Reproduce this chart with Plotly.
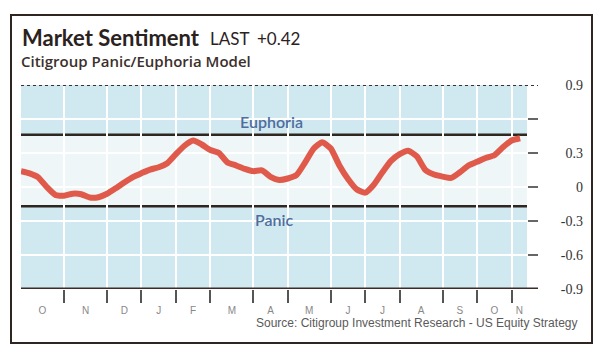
import plotly.graph_objects as go
import numpy as np

# ---------------- data ----------------
month_labels = ["O", "N", "D", "J", "F", "M", "A", "M", "J", "J", "A", "S", "O", "N"]
month_weeks = [5, 5, 4, 4, 4, 5, 4, 5, 4, 4, 5, 4, 4, 3]
sentiment = [0.14, 0.12, 0.085, 0.00, -0.07, -0.078, -0.059, -0.064, -0.093, -0.09,
             -0.06, -0.012, 0.04, 0.088, 0.122, 0.154, 0.174, 0.21, 0.29, 0.364,
             0.41, 0.375, 0.327, 0.30, 0.217, 0.19, 0.16, 0.14, 0.147, 0.09,
             0.062, 0.075, 0.104, 0.215, 0.338, 0.395, 0.34, 0.19, 0.07, -0.02,
             -0.05, 0.02, 0.13, 0.23, 0.29, 0.32, 0.27, 0.15, 0.11, 0.092,
             0.08, 0.13, 0.19, 0.222, 0.256, 0.28, 0.35, 0.41, 0.43]
euphoria_level = 0.46
panic_level = -0.17
y_min, y_max = -0.9, 0.9
tick_marks_y = [-0.6, -0.3, 0, 0.3, 0.6]
tick_labels_y = [0.9, 0.3, 0, -0.3, -0.6, -0.9]
last_value = "+0.42"

# ---------------- layout geometry ----------------
W, H = 604, 353
ML, MR, MT, MB = 21, 21, 85, 64
PW = W - ML - MR
PH = H - MT - MB
plot_right_px = 527
x_max = 58.8


def px(xp):
    return (xp - ML) / PW


def py(yp):
    return (H - MB - yp) / PH


weeks = np.arange(len(sentiment))
bounds = np.cumsum(month_weeks)
starts = np.concatenate([[0], bounds[:-1]])
centers = [(s + min(e, x_max)) / 2 for s, e in zip(starts, bounds)]
tick_bounds = [b for b in bounds[:-1]]

dark = "#2f2521"
blue = "#d0e8f0"
mid = "#eef6f8"

fig = go.Figure()
fig.add_trace(go.Scatter(
    x=weeks, y=sentiment, mode="lines",
    line=dict(color="#e05a4b", width=6, shape="spline", smoothing=0.5),
    hoverinfo="skip", showlegend=False,
))
# invisible trace for label axes
fig.add_trace(go.Scatter(x=[0], y=[0], xaxis="x2", yaxis="y2", mode="markers",
                         marker=dict(opacity=0), showlegend=False, hoverinfo="skip"))

shapes = [
    dict(type="rect", xref="x", yref="y", x0=0, x1=x_max, y0=euphoria_level, y1=y_max,
         fillcolor=blue, line=dict(width=0), layer="below"),
    dict(type="rect", xref="x", yref="y", x0=0, x1=x_max, y0=y_min, y1=panic_level,
         fillcolor=blue, line=dict(width=0), layer="below"),
    dict(type="line", xref="x", yref="y", x0=0, x1=x_max, y0=euphoria_level, y1=euphoria_level,
         line=dict(color=dark, width=2.5), layer="below"),
    dict(type="line", xref="x", yref="y", x0=0, x1=x_max, y0=panic_level, y1=panic_level,
         line=dict(color=dark, width=2.5), layer="below"),
    # top dotted line and bottom axis line
    dict(type="line", xref="paper", yref="y", x0=0, x1=px(538), y0=y_max, y1=y_max,
         line=dict(color="#3a3230", width=2, dash="dot"), layer="above"),
    dict(type="line", xref="paper", yref="y", x0=0, x1=px(538), y0=y_min, y1=y_min,
         line=dict(color="#3a2c26", width=3), layer="above"),
    # outer frame
    dict(type="rect", xref="paper", yref="paper", x0=px(11), x1=px(592), y0=py(343), y1=py(15),
         line=dict(color=dark, width=2), fillcolor="rgba(0,0,0,0)", layer="above"),
]

annotations = [
    dict(text="<b>Market Sentiment</b>", x=px(21), y=py(38), xref="paper", yref="paper",
         xanchor="left", yanchor="middle", showarrow=False, borderpad=0,
         font=dict(family="Lato", size=22, color="#2b221e")),
    dict(text="LAST", x=px(209), y=py(39), xref="paper", yref="paper",
         xanchor="left", yanchor="middle", showarrow=False, borderpad=0,
         font=dict(family="Lato", size=17, color="#2b221e")),
    dict(text=last_value, x=px(256), y=py(39), xref="paper", yref="paper",
         xanchor="left", yanchor="middle", showarrow=False, borderpad=0,
         font=dict(family="Lato", size=17, color="#2b221e")),
    dict(text="Citigroup Panic/Euphoria Model", x=px(20), y=py(61), xref="paper", yref="paper",
         xanchor="left", yanchor="middle", showarrow=False, borderpad=0,
         font=dict(family="Open Sans", size=15, color="#3b302b", weight=600)),
    dict(text="Euphoria", x=px(271), y=py(121), xref="paper", yref="paper",
         xanchor="center", yanchor="middle", showarrow=False,
         font=dict(family="Lato", size=16, color="#4f6d9e", weight=600)),
    dict(text="Panic", x=px(274), y=py(219), xref="paper", yref="paper",
         xanchor="center", yanchor="middle", showarrow=False,
         font=dict(family="Lato", size=16, color="#4f6d9e", weight=600)),
    dict(text="Source: Citigroup Investment Research - US Equity Strategy", x=px(579), y=py(323),
         xref="paper", yref="paper", xanchor="right", yanchor="middle", showarrow=False,
         font=dict(family="Liberation Sans", size=12, color="#5a5a5a")),
]

fig.update_layout(
    width=W, height=H,
    margin=dict(l=ML, r=MR, t=MT, b=MB),
    paper_bgcolor="white", plot_bgcolor=mid,
    showlegend=False,
    shapes=shapes, annotations=annotations,
    xaxis=dict(domain=[0, px(plot_right_px)], range=[0, x_max], tickmode="array",
               tickvals=tick_bounds, showticklabels=False, ticks="outside", ticklen=13,
               tickwidth=1.5, tickcolor="#555", showgrid=True, gridcolor="white", gridwidth=2,
               zeroline=False, showline=False, fixedrange=True),
    xaxis2=dict(domain=[0, px(plot_right_px)], range=[0, x_max], overlaying="x", anchor="y",
                side="bottom", tickmode="array", tickvals=centers, ticktext=month_labels,
                ticks="outside", ticklen=12, tickcolor="rgba(0,0,0,0)", showgrid=False,
                zeroline=False, showline=False,
                tickfont=dict(family="Liberation Sans", size=10, color="#888")),
    yaxis=dict(range=[y_min, y_max], side="right", tickmode="array", tickvals=tick_marks_y,
               showticklabels=False, ticks="outside", ticklen=10, tickwidth=1.5, tickcolor="#666",
               showgrid=True, gridcolor="white", gridwidth=2, zeroline=False, showline=False),
    yaxis2=dict(range=[y_min, y_max], overlaying="y", anchor="free", position=1, side="left",
                tickmode="array", tickvals=tick_labels_y,
                ticktext=[("%g" % v) for v in tick_labels_y], ticks="", showgrid=False,
                zeroline=False, showline=False, automargin=False,
                tickfont=dict(family="Liberation Serif", size=14, color="#333")),
)

fig.write_html("out.html")
